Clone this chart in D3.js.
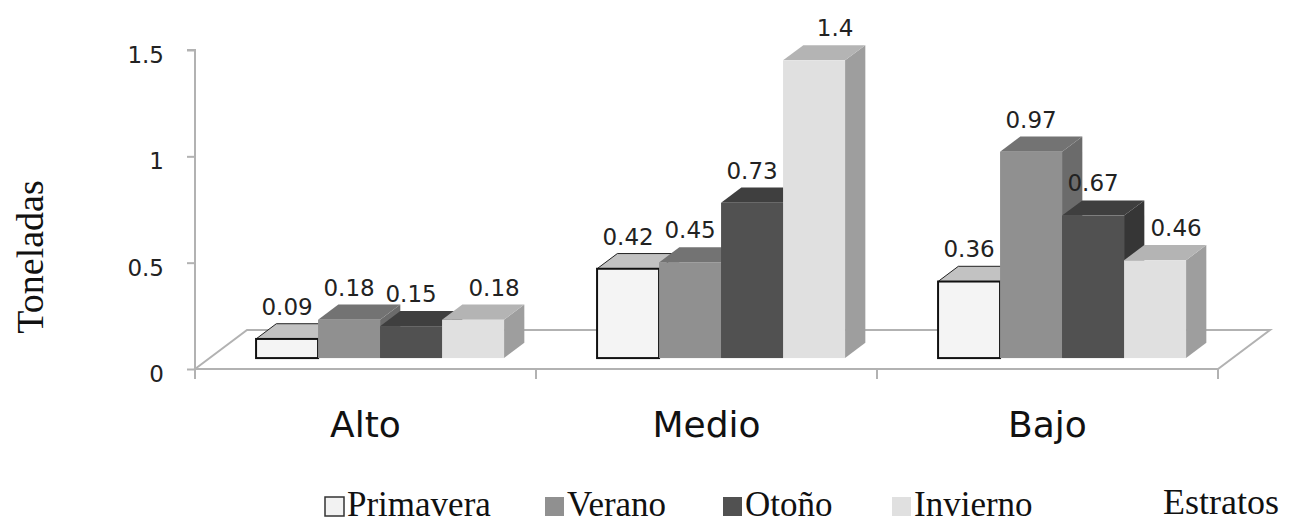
<!DOCTYPE html>
<html>
<head>
<meta charset="utf-8">
<script src="https://cdn.jsdelivr.net/npm/d3@7"></script>
<style>
  body { margin: 0; background: #fff; }
  svg { display: block; }
</style>
</head>
<body>
<div id="chart"></div>
<script>
((exports) => {
    let categories = ["Alto", "Medio", "Bajo"],
        series = ["Primavera", "Verano", "Otoño", "Invierno"],
        values = {
            "Primavera": [0.09, 0.42, 0.36],
            "Verano":    [0.18, 0.45, 0.97],
            "Otoño":     [0.15, 0.73, 0.67],
            "Invierno":  [0.18, 1.4, 0.46]
        },
        yTicks = [0, 0.5, 1, 1.5],
        yTitle = "Toneladas",
        xTitle = "Estratos"

    // front, top, side shades per series
    let shades = {
        "Primavera": ["#f4f4f4", "#c2c2c2", "#a9a9a9"],
        "Verano":    ["#909090", "#737373", "#6b6b6b"],
        "Otoño":     ["#515151", "#3f3f3f", "#363636"],
        "Invierno":  ["#e0e0e0", "#b4b4b4", "#9e9e9e"]
    }

    let W = 1291, H = 524,
        svg = d3.select("#chart").append("svg")
                .attr("width", W)
                .attr("height", H)

    let left = 195, right = 1218, y0 = 369,
        floorDx = 52, floorDy = -39,
        tFront = 0.28, tBack = 0.67

    let y = d3.scaleLinear().domain([0, 1.5]).range([y0, 50])
    let x0 = d3.scaleBand().domain(categories).range([left, right])
    let x1 = d3.scaleBand().domain(series).range([0, x0.bandwidth()])
               .paddingInner(0).paddingOuter(0.75)

    let fx = floorDx * tFront, fy = floorDy * tFront,
        bdx = floorDx * (tBack - tFront), bdy = floorDy * (tBack - tFront)

    // floor
    let floorPts = [[left, y0], [left + floorDx, y0 + floorDy],
                    [right + floorDx, y0 + floorDy], [right, y0]]
    svg.append("polygon")
        .attr("points", floorPts.map(p => p.join(",")).join(" "))
        .attr("fill", "none")
        .attr("stroke", "#b2b2b2")
        .attr("stroke-width", 2)

    // category ticks below front edge
    let bounds = categories.map(c => x0(c)).concat([right])
    svg.selectAll("line.xtick").data(bounds).enter().append("line")
        .attr("class", "xtick")
        .attr("x1", d => d).attr("x2", d => d)
        .attr("y1", y0).attr("y2", y0 + 10)
        .attr("stroke", "#b2b2b2").attr("stroke-width", 2)

    // y axis
    let yAxis = d3.axisLeft(y).tickValues(yTicks).tickSize(8).tickPadding(23)
                  .tickFormat(d => String(d))
    let ga = svg.append("g").attr("transform", `translate(${left},0)`).call(yAxis)
    ga.select(".domain").attr("stroke", "#b2b2b2").attr("stroke-width", 2)
      .attr("d", `M-8,${y(1.5)}H0V${y0 + 10}`)
    ga.selectAll(".tick line").attr("stroke", "#b2b2b2").attr("stroke-width", 2)
    ga.selectAll(".tick text")
      .attr("font-family", "DejaVu Sans, Verdana, sans-serif")
      .attr("font-size", 23)
      .attr("fill", "#222")
      .attr("dy", "0.55em")

    // bars
    let pts = a => a.map(p => p.join(",")).join(" ")
    categories.forEach((c, ci) => {
        series.forEach((s, si) => {
            let v = values[s][ci],
                xl = x0(c) + x1(s) + fx,
                xr = xl + x1.bandwidth(),
                yb = y(0) + fy,
                yt = y(v) + fy,
                col = shades[s],
                g = svg.append("g")
            g.append("polygon")
                .attr("points", pts([[xr, yb], [xr + bdx, yb + bdy], [xr + bdx, yt + bdy], [xr, yt]]))
                .attr("fill", col[2])
            g.append("polygon")
                .attr("points", pts([[xl, yt], [xl + bdx, yt + bdy], [xr + bdx, yt + bdy], [xr, yt]]))
                .attr("fill", col[1])
                .attr("stroke", si === 0 ? "#222" : "none")
                .attr("stroke-width", 1)
            g.append("rect")
                .attr("x", xl).attr("y", yt)
                .attr("width", xr - xl).attr("height", yb - yt)
                .attr("fill", col[0])
                .attr("stroke", si === 0 ? "#111" : "none")
                .attr("stroke-width", 2)
        })
    })

    // value labels
    categories.forEach((c, ci) => {
        series.forEach((s, si) => {
            let v = values[s][ci],
                cx = x0(c) + x1(s) + fx + x1.bandwidth() / 2,
                last = si === series.length - 1
            svg.append("text")
                .attr("x", cx + (last ? 21 : 0))
                .attr("y", y(v) + fy + bdy - 9)
                .attr("text-anchor", "middle")
                .attr("font-family", "DejaVu Sans, Verdana, sans-serif")
                .attr("font-size", 23)
                .attr("fill", "#222")
                .text(String(v))
        })
    })

    // category labels
    svg.selectAll("text.cat").data(categories).enter().append("text")
        .attr("class", "cat")
        .attr("x", d => x0(d) + x0.bandwidth() / 2)
        .attr("y", 437)
        .attr("text-anchor", "middle")
        .attr("font-family", "DejaVu Sans, Verdana, sans-serif")
        .attr("font-size", 36)
        .attr("fill", "#111")
        .text(d => d)

    // axis titles
    svg.append("text")
        .attr("transform", "translate(43,257) rotate(-90)")
        .attr("text-anchor", "middle")
        .attr("font-family", "Liberation Serif, Times New Roman, serif")
        .attr("font-size", 38)
        .attr("fill", "#111")
        .text(yTitle)
    svg.append("text")
        .attr("x", 1163).attr("y", 514)
        .attr("font-family", "Liberation Serif, Times New Roman, serif")
        .attr("font-size", 36)
        .attr("fill", "#111")
        .text(xTitle)

    // legend
    let legendX = [325, 545, 723, 892]
    series.forEach((s, si) => {
        let lx = legendX[si]
        svg.append("rect")
            .attr("x", lx).attr("y", 497)
            .attr("width", 19).attr("height", 19)
            .attr("fill", si === 0 ? "#f2f2f2" : shades[s][0])
            .attr("stroke", si === 0 ? "#333" : "none")
            .attr("stroke-width", 1.5)
        svg.append("text")
            .attr("x", lx + 22).attr("y", 516)
            .attr("font-family", "Liberation Serif, Times New Roman, serif")
            .attr("font-size", 35)
            .attr("fill", "#111")
            .text(s)
    })
})(window);
</script>
</body>
</html>
